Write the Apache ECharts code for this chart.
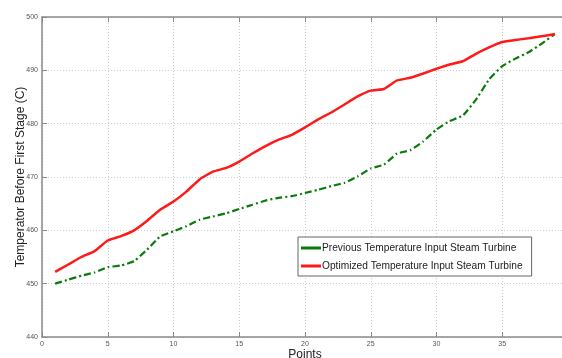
<!DOCTYPE html>
<html><head><meta charset="utf-8">
<script src="https://cdn.jsdelivr.net/npm/echarts@6/dist/echarts.min.js"></script>
<style>html,body{margin:0;padding:0;background:#fff}#c{width:562px;height:358px}</style>
</head><body><div id="c"></div>
<script>
const points = [1,2,3,4,5,6,7,8,9,10,11,12,13,14,15,16,17,18,19,20,21,22,23,24,25,26,27,28,29,30,31,32,33,34,35,36,37,38,39];
const previous = [450.0,450.75,451.5,452.1,453.1,453.4,454.2,456.4,458.9,459.8,460.8,462.0,462.6,463.2,464.0,464.8,465.6,466.1,466.4,467.0,467.6,468.3,468.9,470.1,471.6,472.3,474.4,475.0,476.7,478.9,480.5,481.5,484.5,488.3,490.8,492.2,493.4,495.0,496.8];
const optimized = [452.2,453.6,455.0,456.1,458.1,458.9,460.0,461.8,463.9,465.4,467.3,469.6,471.0,471.7,472.9,474.4,475.8,477.0,477.9,479.3,480.8,482.1,483.6,485.1,486.2,486.5,488.1,488.6,489.4,490.3,491.1,491.7,493.1,494.3,495.3,495.7,496.0,496.4,496.8];
const seriesNames = ['Previous Temperature Input Steam Turbine','Optimized Temperature Input Steam Turbine'];
const xTicks = {min:0,max:40,interval:5};
const yTicks = {min:440,max:500,interval:10};

const chart = echarts.init(document.getElementById('c'), null, {renderer:'canvas'});
const axisLine = {show:true,lineStyle:{color:'#8a8a8a',width:1.5}};
const grid = {show:true,lineStyle:{color:'#cccccc',type:[1,2],width:1}};
const lbl = {fontSize:7,color:'#555',fontFamily:'Liberation Sans'};
chart.setOption({
  animation:false,
  grid:{left:42,right:-6,top:17,bottom:21,containLabel:false,outerBoundsMode:'none'},
  legend:{
    show:true, orient:'vertical', left:298, top:237,
    itemWidth:20, itemHeight:3, itemGap:8,
    padding:[6,9,5,3], borderColor:'#666', borderWidth:1, backgroundColor:'#fff',
    textStyle:{fontSize:10.2,color:'#222',fontFamily:'Liberation Sans',padding:[0,0,0,-4]},
    data:seriesNames.map(n=>({name:n,icon:'rect'}))
  },
  xAxis:[{
    type:'value',min:xTicks.min,max:xTicks.max,interval:xTicks.interval,
    axisLine:axisLine,axisTick:{show:true,inside:true,length:5,lineStyle:{color:'#8a8a8a'}},
    axisLabel:Object.assign({margin:4},lbl),splitLine:grid,
    name:'Points',nameLocation:'middle',nameGap:12,nameMoveOverlap:false,
    nameTextStyle:{fontSize:12,color:'#222',fontFamily:'Liberation Sans'}
  },{
    type:'value',position:'top',min:xTicks.min,max:xTicks.max,interval:xTicks.interval,
    axisLine:axisLine,axisTick:{show:true,inside:true,length:5,lineStyle:{color:'#8a8a8a'}},
    axisLabel:{show:false},splitLine:{show:false}
  }],
  yAxis:[{
    type:'value',min:yTicks.min,max:yTicks.max,interval:yTicks.interval,
    axisLine:axisLine,axisTick:{show:true,inside:true,length:5,lineStyle:{color:'#8a8a8a'}},
    axisLabel:Object.assign({margin:4},lbl),splitLine:grid,
    name:'Temperator Before First Stage (C)',nameLocation:'middle',nameGap:15,nameMoveOverlap:false,
    nameTextStyle:{fontSize:12,color:'#222',fontFamily:'Liberation Sans'}
  }],
  series:[{
    name:seriesNames[0],type:'line',showSymbol:false,symbol:'none',smooth:0.1,
    data:points.map((p,i)=>[p,previous[i]]),
    lineStyle:{color:'#0a7a0a',width:2.2,type:[7,3,2,3]},itemStyle:{color:'#0a7a0a'},z:3
  },{
    name:seriesNames[1],type:'line',showSymbol:false,symbol:'none',smooth:0.1,
    data:points.map((p,i)=>[p,optimized[i]]),
    lineStyle:{color:'#ff1a1a',width:2.5},itemStyle:{color:'#ff1a1a'},z:4
  }]
});
</script></body></html>
